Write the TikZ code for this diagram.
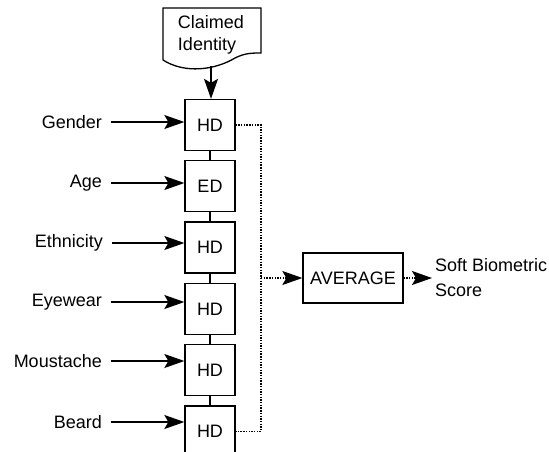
\documentclass[tikz,border=0pt]{standalone}
\usepackage{fontspec}
\setmainfont{Liberation Sans}
\usetikzlibrary{positioning, arrows.meta, calc}
\newcommand{\labelfont}{\fontsize{18pt}{22pt}\selectfont}
\tikzset{
  % Matcher box (HD / ED)
  matcher/.style={
    rectangle, draw=black, line width=1.3pt,
    minimum width=50pt, minimum height=51pt, inner sep=0pt,
    font=\labelfont
  },
  % Attribute label on the left
  attr/.style={anchor=east, inner sep=0pt, font=\labelfont},
  % Arrow style
  arr/.style={-{Stealth[length=20pt, width=14pt, inset=4pt]}, line width=1.3pt},
  % Dotted fusion lines
  fuse/.style={dash pattern=on 1.4pt off 1.3pt, line width=1.4pt},
}

\begin{document}
\begin{tikzpicture}[x=1pt, y=-1pt, node distance=9pt]
  \useasboundingbox (0,0) rectangle (549,451);
  % Claimed identity document
  \draw[line width=1.3pt] (163,60) -- (163,8) -- (261,8) -- (261,53)
    .. controls (252,53) and (245,53) .. (235,58)
    .. controls (215,70) and (185,74) .. (163,60);
  \node[font=\labelfont, align=left, anchor=center, inner sep=0pt] (claim) at (211,35) {Claimed\\Identity};
  \coordinate (claimtip) at (211,66);
  % Matchers
  \node[matcher] (b1) at (210,125) {HD};
  \node[matcher, below=of b1] (b2) {ED};
  \node[matcher, below=of b2] (b3) {HD};
  \node[matcher, below=of b3] (b4) {HD};
  \node[matcher, below=of b4] (b5) {HD};
  \node[matcher, below=of b5] (b6) {HD};
  \foreach \i/\j in {1/2, 2/3, 3/4, 4/5, 5/6}
    \draw[line width=1.3pt] (b\i.south) -- (b\j.north);
  % Attributes
  \node[attr] (l1) at (102,122) {Gender};
  \node[attr] (l2) at (102,183) {Age};
  \node[attr] (l3) at (103,243) {Ethnicity};
  \node[attr] (l4) at (102,302) {Eyewear};
  \node[attr] (l5) at (102,361) {Moustache};
  \node[attr] (l6) at (102,422) {Beard};
  \foreach \i in {1,...,6}
    \draw[arr, shorten <=9pt] (l\i.east) -- (l\i.east -| b\i.west);
  \draw[arr] (claimtip) -- (claimtip |- b1.north);
  % Fusion
  \node[matcher, minimum width=100pt, minimum height=50pt] (avg) at (353,278) {AVERAGE};
  \node[font=\fontsize{18pt}{25pt}\selectfont, align=left, anchor=west, inner sep=0pt] (score) at (435,278) {Soft Biometric\\Score};
  \coordinate (bus) at (261,278);
  \draw[fuse] (b1.east) -| (bus) |- (b6.east);
  \draw[fuse, arr] (bus) -- (avg.west);
  \draw[fuse, arr, shorten >=3pt] (avg.east) -- (score.west);
\end{tikzpicture}
\end{document}
